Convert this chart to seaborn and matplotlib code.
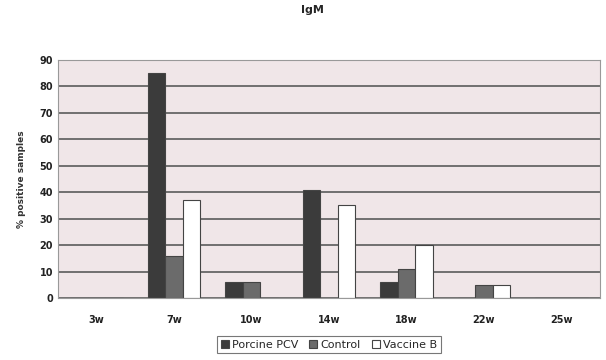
import matplotlib
matplotlib.use("Agg")
import matplotlib.pyplot as plt
import seaborn as sns
import pandas as pd

categories = ["3w", "7w", "10w", "14w", "18w", "22w", "25w"]
porcine_pcv = [0, 85, 6, 41, 6, 0, 0]
control = [0, 16, 6, 0, 11, 5, 0]
vaccine_b = [0, 37, 0, 35, 20, 5, 0]
series_names = ["Porcine PCV", "Control", "Vaccine B"]

rows = []
for name, vals in zip(series_names, [porcine_pcv, control, vaccine_b]):
    for c, v in zip(categories, vals):
        rows.append({"week": c, "value": v, "series": name})
df = pd.DataFrame(rows)

sns.set_style("white")
plt.rcParams['font.family'] = ['DejaVu Sans']

fig = plt.figure(figsize=(6.06, 3.6), dpi=100)
ax = fig.add_axes([58/606, 1 - 298/360, 542/606, (298 - 60)/360])
ax.set_facecolor("#f0e6e8")

palette = {"Porcine PCV": "#3b3b3b", "Control": "#6b6b6b", "Vaccine B": "#ffffff"}
sns.barplot(data=df, x="week", y="value", hue="series", order=categories,
            hue_order=series_names, palette=palette, width=0.68, gap=0,
            edgecolor="#444444", linewidth=0.8, ax=ax, legend=True, saturation=1)

ax.set_ylim(0, 90)
ax.set_yticks(range(0, 91, 10))
ax.yaxis.grid(True, color="#666666", linewidth=1.3)
ax.set_axisbelow(True)
ax.set_xlim(-0.5, 6.5)
for s in ax.spines.values():
    s.set_color("#999999")
    s.set_linewidth(0.8)
ax.tick_params(axis="both", labelsize=7, length=0, colors="#222222")
ax.tick_params(axis="x", pad=12)
for t in ax.get_xticklabels() + ax.get_yticklabels():
    t.set_fontweight("bold")
ax.set_xlabel("")
ax.set_ylabel("% positive samples", fontsize=6.5, fontweight="bold", color="#333333", labelpad=10)
fig.suptitle("IgM", fontsize=8, fontweight="bold", y=0.985, x=0.515)

leg = ax.legend(loc="upper center", bbox_to_anchor=(0.5, -0.135), ncol=3,
                fontsize=8, frameon=True, fancybox=False, edgecolor="#555555",
                handlelength=0.7, handleheight=0.7, handletextpad=0.3,
                columnspacing=1.0, borderpad=0.35)
leg.get_frame().set_linewidth(0.8)

fig.savefig("out.png", dpi=100, facecolor="white")
